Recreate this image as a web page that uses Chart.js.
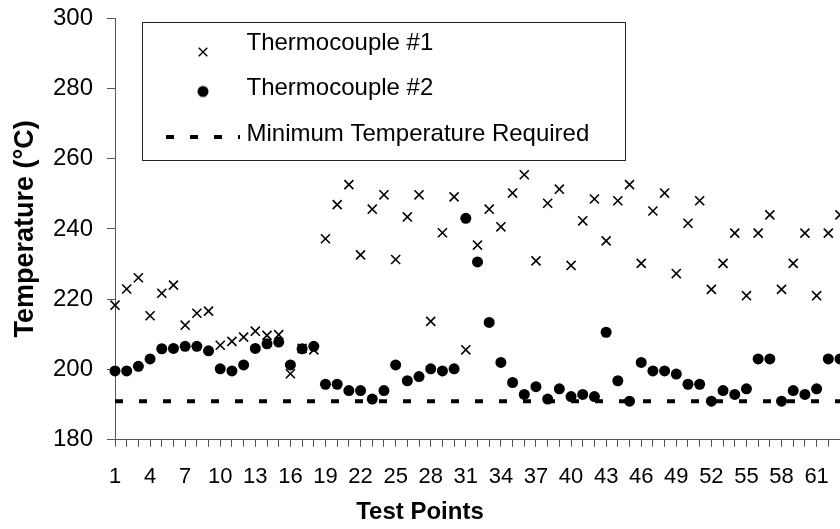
<!DOCTYPE html>
<html>
<head>
<meta charset="utf-8">
<script src="https://cdn.jsdelivr.net/npm/chart.js@4/dist/chart.umd.min.js"></script>
<style>
  html, body { margin: 0; padding: 0; background: #fff; }
  #wrap { width: 840px; height: 529px; }
</style>
</head>
<body>
<div id="wrap"><canvas id="c" width="840" height="529"></canvas></div>
<script>
// ---- data ----
const testPoints = [1,2,3,4,5,6,7,8,9,10,11,12,13,14,15,16,17,18,19,20,21,22,23,24,25,26,27,28,29,30,31,32,33,34,35,36,37,38,39,40,41,42,43,44,45,46,47,48,49,50,51,52,53,54,55,56,57,58,59,60,61,62,63];
const thermocouple1 = [218.3,222.9,226.1,215.3,221.7,224.0,212.6,216.0,216.6,206.9,208.0,209.2,210.9,209.7,209.9,198.8,206.0,205.6,237.2,246.9,252.6,232.6,245.6,249.7,231.3,243.4,249.7,213.7,238.9,249.1,205.6,235.4,245.6,240.6,250.2,255.4,230.9,247.3,251.3,229.6,242.3,248.5,236.6,248.0,252.6,230.2,245.1,250.2,227.3,241.6,248.0,222.8,230.2,238.8,221.0,238.8,244.0,222.8,230.2,238.8,221.0,238.8,244.0];
const thermocouple2 = [199.6,199.6,200.9,203.0,205.9,206.0,206.6,206.6,205.3,200.2,199.6,201.3,206.0,207.3,207.8,201.3,205.9,206.6,195.8,195.8,194.0,194.0,191.6,194.0,201.3,196.8,198.0,200.2,199.6,200.2,243.0,230.6,213.4,202.0,196.3,192.9,195.1,191.6,194.5,192.3,192.9,192.3,210.6,196.8,191.0,202.0,199.6,199.6,198.7,195.8,195.8,191.0,194.0,192.9,194.5,203.0,203.0,191.0,194.0,192.9,194.5,203.0,203.0];
const minimumRequired = 191;
const seriesNames = ['Thermocouple #1', 'Thermocouple #2', 'Minimum Temperature Required'];
const xTickLabels = [1,4,7,10,13,16,19,22,25,28,31,34,37,40,43,46,49,52,55,58,61];
const yTicks = [180,200,220,240,260,280,300];

// ---- legend symbols (small canvases) ----
function symbolCanvas(draw) {
  const c = document.createElement('canvas');
  c.width = 74; c.height = 34;
  const g = c.getContext('2d');
  draw(g);
  return c;
}
const legendSymbols = [
  symbolCanvas(g => { g.strokeStyle = '#000'; g.lineWidth = 1.4; const cx = 37, cy = 17 + 9, o = 4.3;
    g.beginPath(); g.moveTo(cx - o, cy - o); g.lineTo(cx + o, cy + o); g.moveTo(cx + o, cy - o); g.lineTo(cx - o, cy + o); g.stroke(); }),
  symbolCanvas(g => { g.fillStyle = '#000'; g.beginPath(); g.arc(37, 17 + 3, 5.5, 0, Math.PI * 2); g.fill(); }),
  symbolCanvas(g => { g.strokeStyle = '#000'; g.lineWidth = 4; g.setLineDash([8, 16]); g.beginPath(); g.moveTo(0, 17 + 3); g.lineTo(74, 17 + 3); g.stroke(); })
];

const FONT = "'Liberation Sans', Arial, Helvetica, sans-serif";
Chart.defaults.font.family = FONT;
Chart.defaults.color = '#000';

const legendFrame = {
  id: 'legendFrame',
  beforeDraw(chart) {
    const lg = chart.legend;
    const w = lg.width;
    lg.left = 150; lg.top = 9.5;
    lg.right = lg.left + w; lg.bottom = lg.top + 200;
  },
  afterDraw(chart) {
    const ctx = chart.ctx;
    ctx.save();
    ctx.strokeStyle = '#222';
    ctx.lineWidth = 1;
    ctx.strokeRect(142.5, 22.5, 483, 138);
    ctx.restore();
  }
};

new Chart(document.getElementById('c'), {
  type: 'scatter',
  data: {
    datasets: [
      {
        label: seriesNames[0],
        data: thermocouple1.map((v, i) => ({ x: testPoints[i], y: v })),
        pointStyle: 'crossRot',
        pointRadius: 6.4,
        pointHoverRadius: 6.4,
        borderColor: '#000',
        backgroundColor: '#000',
        pointBorderWidth: 1.6,
        clip: false
      },
      {
        label: seriesNames[1],
        data: thermocouple2.map((v, i) => ({ x: testPoints[i], y: v })),
        pointStyle: 'circle',
        pointRadius: 5.5,
        pointHoverRadius: 5.5,
        borderColor: '#000',
        backgroundColor: '#000',
        pointBorderWidth: 0,
        clip: false
      },
      {
        type: 'line',
        label: seriesNames[2],
        data: testPoints.map(x => ({ x: x, y: minimumRequired })),
        showLine: true,
        borderColor: '#000',
        borderWidth: 4,
        borderDash: [8, 16],
        pointRadius: 0,
        pointStyle: 'line',
        fill: false
      }
    ]
  },
  options: {
    responsive: false,
    animation: false,
    layout: { autoPadding: false, padding: { top: 18, right: 0, bottom: 0, left: 0 } },
    plugins: {
      tooltip: { enabled: false },
      legend: {
        position: 'chartArea',
        align: 'start',
        labels: {
          usePointStyle: true,
          pointStyleWidth: 63,
          padding: 21.5,
          color: '#000',
          font: { size: 24, family: FONT },
          generateLabels(chart) {
            const items = Chart.defaults.plugins.legend.labels.generateLabels(chart);
            items.forEach((it, i) => { it.pointStyle = legendSymbols[i]; it.fontColor = '#000'; });
            return items;
          }
        }
      },
      title: {
        display: true,
        position: 'bottom',
        text: 'Test Points',
        color: '#000',
        font: { size: 24, weight: 'bold', family: FONT },
        padding: { top: 8, bottom: 2 }
      }
    },
    scales: {
      x: {
        type: 'linear',
        min: 1,
        max: 63,
        afterFit: s => { s.height = 50.4; s.paddingRight = 0; s.paddingLeft = 0; },
        border: { display: true, color: '#555', width: 1 },
        grid: { display: true, drawOnChartArea: false, drawTicks: true, tickLength: 7, color: '#555' },
        ticks: {
          stepSize: 1,
          autoSkip: false,
          maxRotation: 0,
          padding: 17,
          color: '#000',
          font: { size: 22, family: FONT },
          callback: v => (xTickLabels.includes(v) ? String(v) : '')
        }
      },
      y: {
        min: 180,
        max: 300,
        afterFit: s => { s.width = 115; s.paddingTop = 0; s.paddingBottom = 0; },
        afterBuildTicks: s => { s.ticks = yTicks.map(v => ({ value: v })); },
        border: { display: true, color: '#555', width: 1 },
        grid: { display: true, drawOnChartArea: false, drawTicks: true, tickLength: 8, color: '#555' },
        ticks: {
          stepSize: 20,
          padding: 14,
          color: '#000',
          font: { size: 24, family: FONT }
        },
        title: {
          display: true,
          text: 'Temperature (°C)',
          color: '#000',
          font: { size: 27, weight: 'bold', family: FONT },
          padding: { top: 9, bottom: 0 }
        }
      }
    }
  },
  plugins: [legendFrame]
});
</script>
</body>
</html>
